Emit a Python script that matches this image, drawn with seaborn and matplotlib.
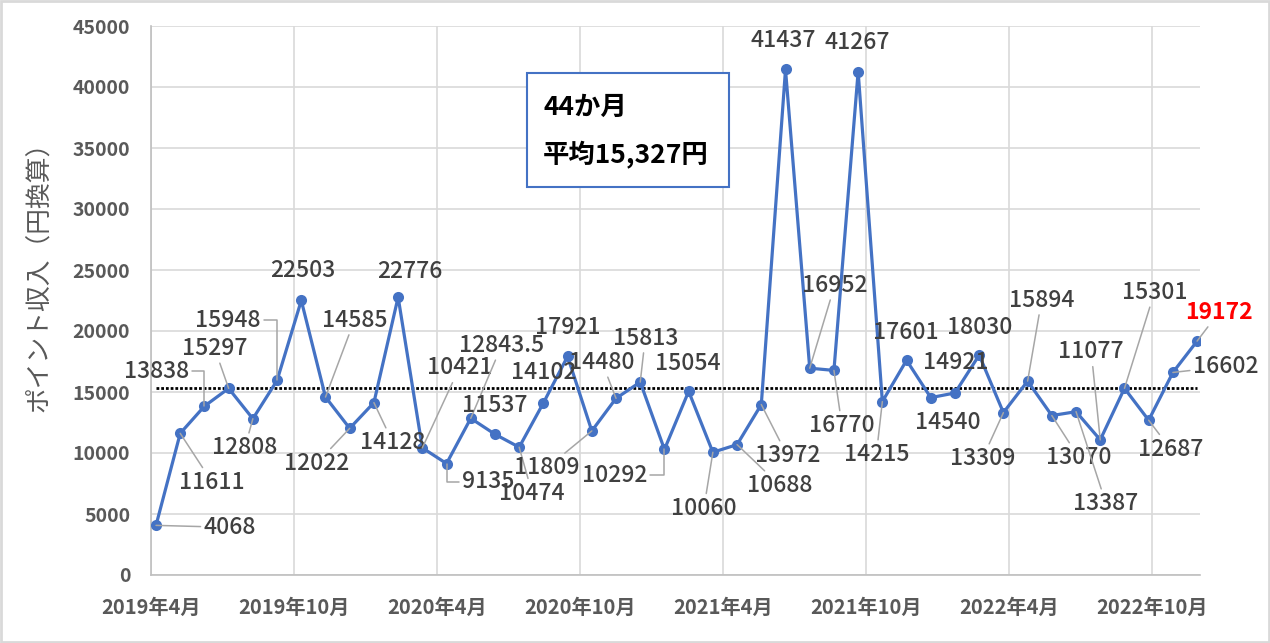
import numpy as np
import pandas as pd
import matplotlib.pyplot as plt
from matplotlib.patches import Rectangle
import seaborn as sns

# 月別ポイント収入（円換算）2019年4月〜2022年11月
months = pd.period_range('2019-04', periods=44, freq='M')
income = [4068, 11611, 13838, 15297, 12808, 15948, 22503, 14585, 12022, 14128,
          22776, 10421, 9135, 12843.5, 11537, 10474, 14102, 17921, 11809, 14480,
          15813, 10292, 15054, 10060, 10688, 13972, 41437, 16952, 16770, 41267,
          14215, 17601, 14540, 14921, 18030, 13309, 15894, 13070, 13387, 11077,
          15301, 12687, 16602, 19172]
tick_labels = ['2019年4月', '2019年10月', '2020年4月', '2020年10月',
               '2021年4月', '2021年10月', '2022年4月', '2022年10月']
y_ticks = [0, 5000, 10000, 15000, 20000, 25000, 30000, 35000, 40000, 45000]
box_lines = ['44か月', '平均15,327円']

# ラベル位置（点からのピクセルずれ）と引き出し線の種類
label_offsets = [(74, -2), (32, -49), (-48, 35), (-14, 40), (-8, -29), (-49, 60),
                 (1, 30), (29, 77), (-33, -35), (19, -40), (12, 26), (37, 80),
                 (42, -18), (31, 73), (0, 29), (13, -46), (0, 30), (0, 29),
                 (-45, -37), (-14, 36), (5, 44), (-50, -26), (-1, 28), (-9, -56),
                 (43, -41), (26, -51), (-2, 29), (25, 83), (8, -55), (-1, 29),
                 (-6, -53), (-1, 28), (17, -25), (1, 30), (0, 28), (-21, -46),
                 (14, 81), (27, -42), (30, -92), (-9, 88), (30, 96), (22, -29),
                 (53, 6), (22, 29)]
leaders = ['line', 'line', 'elbow', 'line', 'line', 'elbow',
           None, 'line', 'line', 'line', None, 'line',
           'elbow', 'line', None, 'line', None, None,
           'line', 'line', 'line', 'elbow', None, 'line',
           'line', 'line', None, 'line', 'line', None,
           'line', None, None, None, None, 'line',
           'line', 'line', 'line', 'line', 'line', 'line',
           'line', 'line']

BLUE = '#4472C4'
GRID = '#D9D9D9'
TICK_C = '#595959'
LABEL_C = '#404040'

sns.set_style('white')
plt.rcParams['font.family'] = ['Noto Sans CJK JP', 'DejaVu Sans']

df = pd.DataFrame({'month': months.astype(str), 'idx': np.arange(len(income)), 'income': income})
average = df['income'].mean()

fig = plt.figure(figsize=(12.7, 6.43), dpi=100)
ax = fig.add_axes([151 / 1270, 68 / 643, 1049 / 1270, 549 / 643])

sns.lineplot(data=df, x='idx', y='income', ax=ax, color=BLUE, linewidth=2.3,
             marker='o', markersize=8, markeredgewidth=0, zorder=3, errorbar=None)
sns.lineplot(x=df['idx'], y=[average] * len(df), ax=ax, color='black', linewidth=2,
             linestyle=(0, (1, 0.7)), zorder=2, errorbar=None)

# 日付軸の目盛（点の間隔とは少しずれている）
origin, step = -0.207, 0.9847
minor = origin + step * np.arange(45)
ax.set_xticks(minor[::6])
ax.set_xticklabels(tick_labels)
ax.set_xticks(minor, minor=True)
ax.set_xlim(minor[0], minor[-1])
ax.set_ylim(0, 45000)
ax.set_yticks(y_ticks)
ax.set_xlabel('')
ax.set_ylabel('')

ax.set_axisbelow(True)
ax.grid(axis='y', color=GRID, linewidth=1.2)
ax.grid(axis='x', which='major', color=GRID, linewidth=1.2)
for s in ['top', 'right']:
    ax.spines[s].set_visible(False)
for s in ['left', 'bottom']:
    ax.spines[s].set_color('#BFBFBF')
    ax.spines[s].set_linewidth(1.2)

ax.tick_params(axis='x', which='major', length=0, pad=16, labelsize=14.5, labelcolor=TICK_C)
ax.tick_params(axis='x', which='minor', direction='in', length=4, width=1, color='#BFBFBF')
ax.tick_params(axis='y', length=0, pad=15, labelsize=14, labelcolor=TICK_C)
for lbl in ax.get_xticklabels() + ax.get_yticklabels():
    lbl.set_fontweight('bold')

# データラベル
for i, v in enumerate(income):
    dx, dy = label_offsets[i]
    lead = leaders[i]
    props = None
    if lead is not None:
        props = dict(arrowstyle='-', color='#A6A6A6', lw=1.1, shrinkA=0, shrinkB=0)
        if lead == 'elbow':
            props['connectionstyle'] = 'angle,angleA=0,angleB=90,rad=0'
            props['relpos'] = (1, 0.5) if dx < 0 else (0, 0.5)
    last = i == len(income) - 1
    ax.annotate(f'{v:g}', xy=(i, v), xytext=(dx, dy), textcoords='offset pixels',
                ha='center', va='center', fontsize=16.5,
                color='red' if last else LABEL_C,
                fontweight='bold' if last else 500,
                arrowprops=props, zorder=4, annotation_clip=False)

fig.text(39 / 1270, 1 - 270 / 643, 'ポイント収入（円換算）', rotation=90,
         ha='center', va='center', fontsize=18.5, color=TICK_C)

# 平均のテキストボックス
fig.add_artist(Rectangle((527 / 1270, 1 - 187 / 643), 202 / 1270, 114 / 643,
                         transform=fig.transFigure, facecolor='white',
                         edgecolor=BLUE, linewidth=1.5, zorder=5))
fig.text(543 / 1270, 1 - 107 / 643, box_lines[0], ha='left', va='center',
         fontsize=19, fontweight='bold', color='black', zorder=6)
fig.text(543 / 1270, 1 - 155 / 643, box_lines[1], ha='left', va='center',
         fontsize=19, fontweight='bold', color='black', zorder=6)

fig.add_artist(Rectangle((0.001, 0.002), 0.998, 0.996, transform=fig.transFigure,
                         fill=False, edgecolor=GRID, linewidth=2))

fig.savefig('out.png', dpi=100)
